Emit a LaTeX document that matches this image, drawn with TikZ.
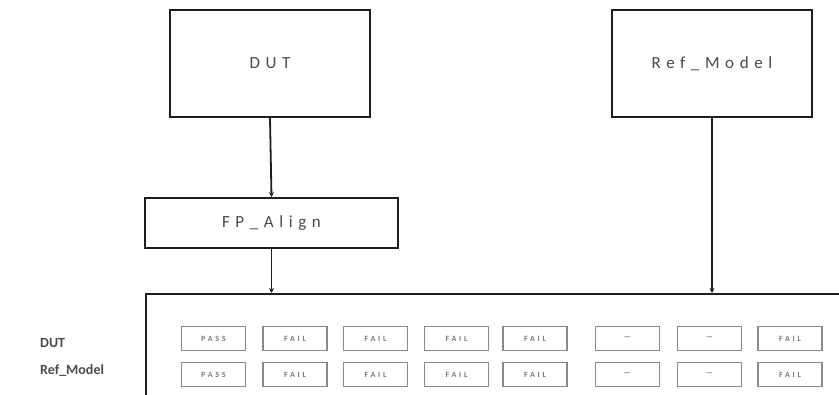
\documentclass[tikz,border=0pt]{standalone}
\usepackage{fontspec}
\setmainfont{Carlito}
\newfontfamily\spacedfont{Carlito}[LetterSpace=33]
\newfontfamily\cellfont{Carlito}[LetterSpace=35]
\usetikzlibrary{arrows.meta,positioning}
\definecolor{boxdark}{HTML}{1E1E1E}
\definecolor{labelgray}{HTML}{4A4A4A}
\definecolor{cellgray}{HTML}{8A8A8A}
\definecolor{celltext}{HTML}{7A7A7A}
\tikzset{
  block/.style={draw=boxdark, line width=1.8pt, fill=white, inner sep=0pt,
    text=labelgray, font=\spacedfont\fontsize{17}{20}\selectfont},
  board/.style={draw=boxdark, line width=2pt, fill=white, inner sep=0pt},
  cell/.style={draw=cellgray, line width=1.2pt, minimum width=64pt,
    minimum height=24pt, inner sep=0pt, text=celltext,
    font=\cellfont\bfseries\fontsize{8}{10}\selectfont},
  rowlabel/.style={anchor=west, text=labelgray, inner sep=0pt,
    font=\bfseries\fontsize{14}{16}\selectfont},
  link/.style={-{Stealth[length=5pt, width=5pt]}, line width=1.8pt, color=boxdark},
}

\begin{document}
\begin{tikzpicture}[x=1pt,y=-1pt]
  \useasboundingbox (0,0) rectangle (839,395);
  \clip (0,0) rectangle (839,395);
  % source blocks
  \node[block, minimum width=200pt, minimum height=107pt] (dut) at (270,63.5) {DUT};
  \node[block, minimum width=200pt, minimum height=107pt] (ref) at (712,63.5) {Ref\_Model};
  \node[block, minimum width=253pt, minimum height=50pt] (align) at (271.5,223) {FP\_Align};
  % comparison board, runs off the page
  \node[board, anchor=north west, minimum width=800pt, minimum height=150pt] (grid) at (145,293) {};
  \draw[link] (dut.south) -- (align.north);
  \draw[link] (align.south) -- (align.south |- grid.north);
  \draw[link] (ref.south) -- (ref.south |- grid.north);
  % row labels
  \node[rowlabel] (lbldut) at (40,343) {DUT};
  \node[rowlabel] (lblref) at (40,371) {Ref\_Model};
  % result cells
  \foreach \x/\a/\b [count=\i] in {213.5/PASS/PASS, 295/FAIL/FAIL, 375.5/FAIL/FAIL,
      456.5/FAIL/FAIL, 535/FAIL/FAIL, 627.5/\textemdash/\textemdash,
      709.5/\textemdash/\textemdash, 790/FAIL/FAIL} {
    \node[cell] (d\i) at (\x,338.5) {\a};
    \node[cell] (r\i) at (\x,374.5) {\b};
  }
\end{tikzpicture}
\end{document}
